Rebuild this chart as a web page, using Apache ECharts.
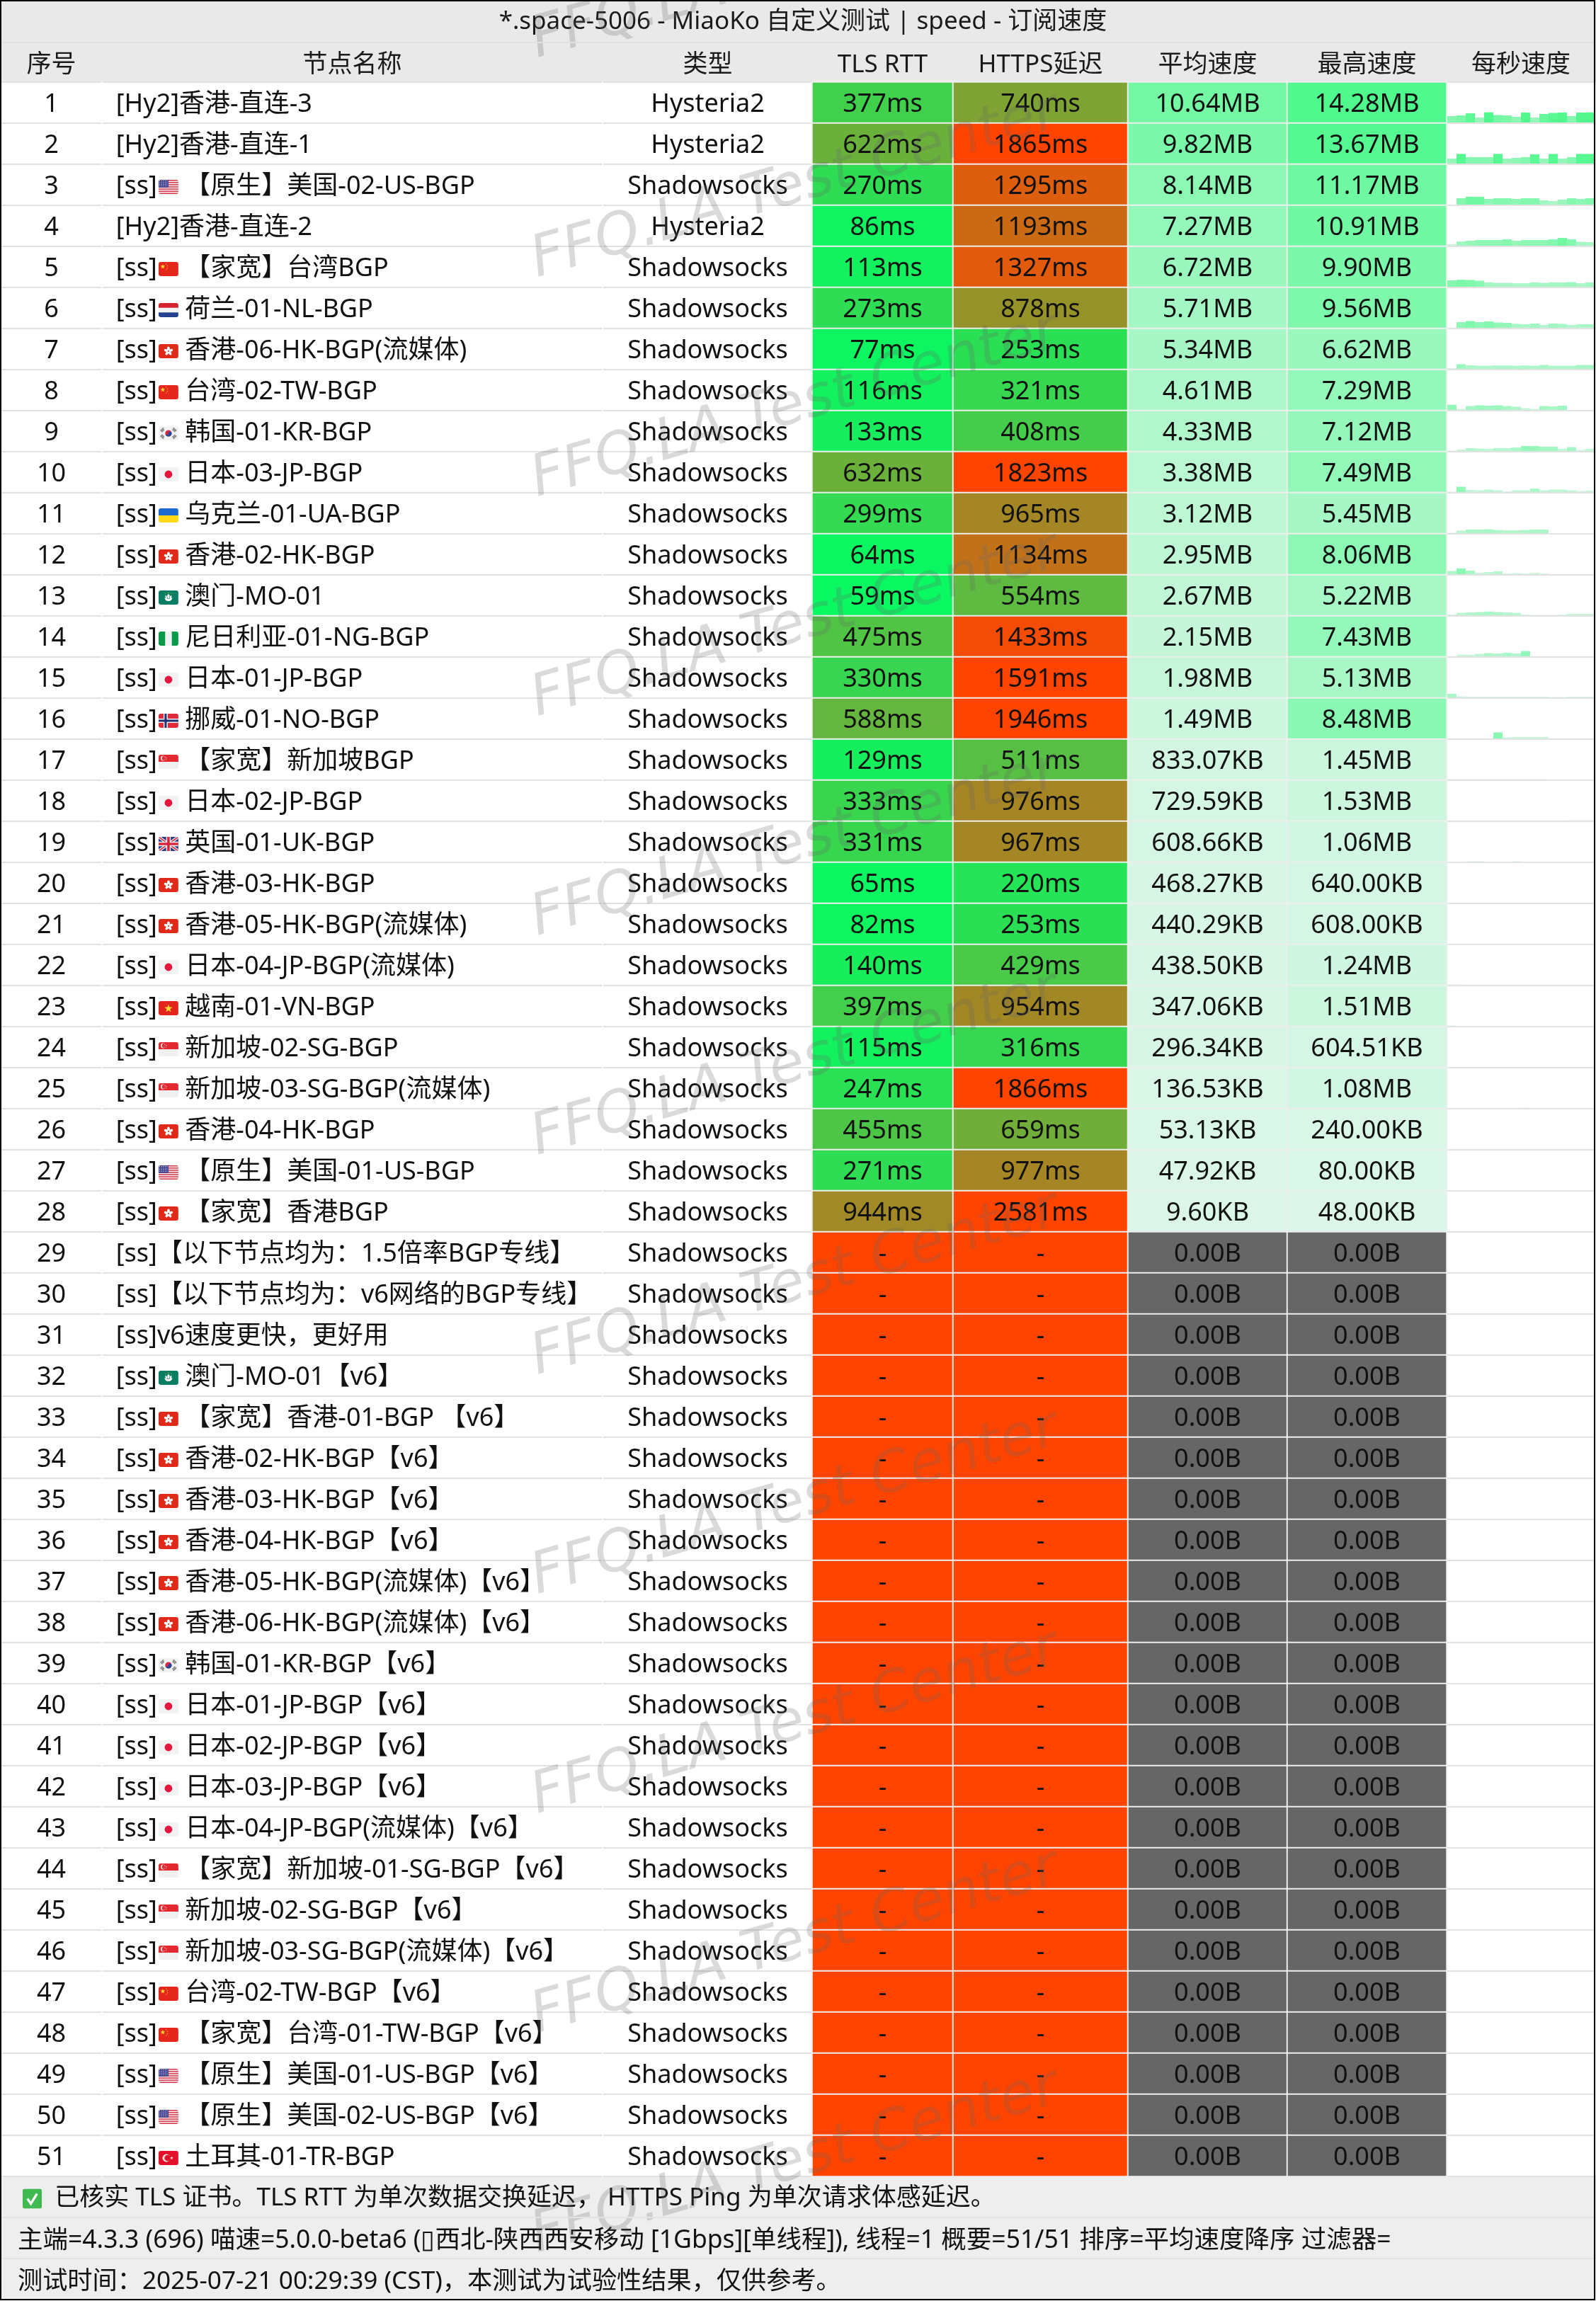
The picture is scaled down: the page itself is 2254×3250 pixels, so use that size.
<!DOCTYPE html>
<html>
<head>
<meta charset="utf-8">
<title>MiaoKo speed</title>
<script src="https://cdn.jsdelivr.net/npm/echarts@6/dist/echarts.min.js"></script>
<style>
  html, body { margin: 0; padding: 0; background: #000; }
  #chart { width: 2254px; height: 3250px; }
</style>
</head>
<body>
<div id="chart"></div>
<script>
const titleText = '*.space-5006 - MiaoKo 自定义测试 | speed - 订阅速度';
const headers = ['序号', '节点名称', '类型', 'TLS RTT', 'HTTPS延迟', '平均速度', '最高速度', '每秒速度'];

const names = [
  '[Hy2]香港-直连-3', '[Hy2]香港-直连-1', '[ss]{US|} 【原生】美国-02-US-BGP', '[Hy2]香港-直连-2',
  '[ss]{CN|} 【家宽】台湾BGP', '[ss]{NL|} 荷兰-01-NL-BGP', '[ss]{HK|} 香港-06-HK-BGP(流媒体)', '[ss]{CN|} 台湾-02-TW-BGP',
  '[ss]{KR|} 韩国-01-KR-BGP', '[ss]{JP|} 日本-03-JP-BGP', '[ss]{UA|} 乌克兰-01-UA-BGP', '[ss]{HK|} 香港-02-HK-BGP',
  '[ss]{MO|} 澳门-MO-01', '[ss]{NG|} 尼日利亚-01-NG-BGP', '[ss]{JP|} 日本-01-JP-BGP', '[ss]{NO|} 挪威-01-NO-BGP',
  '[ss]{SG|} 【家宽】新加坡BGP', '[ss]{JP|} 日本-02-JP-BGP', '[ss]{UK|} 英国-01-UK-BGP', '[ss]{HK|} 香港-03-HK-BGP',
  '[ss]{HK|} 香港-05-HK-BGP(流媒体)', '[ss]{JP|} 日本-04-JP-BGP(流媒体)', '[ss]{VN|} 越南-01-VN-BGP', '[ss]{SG|} 新加坡-02-SG-BGP',
  '[ss]{SG|} 新加坡-03-SG-BGP(流媒体)', '[ss]{HK|} 香港-04-HK-BGP', '[ss]{US|} 【原生】美国-01-US-BGP', '[ss]{HK|} 【家宽】香港BGP',
  '[ss]【以下节点均为：1.5倍率BGP专线】', '[ss]【以下节点均为：v6网络的BGP专线】', '[ss]v6速度更快，更好用', '[ss]{MO|} 澳门-MO-01【v6】',
  '[ss]{HK|} 【家宽】香港-01-BGP 【v6】', '[ss]{HK|} 香港-02-HK-BGP【v6】', '[ss]{HK|} 香港-03-HK-BGP【v6】', '[ss]{HK|} 香港-04-HK-BGP【v6】',
  '[ss]{HK|} 香港-05-HK-BGP(流媒体)【v6】', '[ss]{HK|} 香港-06-HK-BGP(流媒体)【v6】', '[ss]{KR|} 韩国-01-KR-BGP【v6】', '[ss]{JP|} 日本-01-JP-BGP【v6】',
  '[ss]{JP|} 日本-02-JP-BGP【v6】', '[ss]{JP|} 日本-03-JP-BGP【v6】', '[ss]{JP|} 日本-04-JP-BGP(流媒体)【v6】', '[ss]{SG|} 【家宽】新加坡-01-SG-BGP【v6】',
  '[ss]{SG|} 新加坡-02-SG-BGP【v6】', '[ss]{SG|} 新加坡-03-SG-BGP(流媒体)【v6】', '[ss]{CN|} 台湾-02-TW-BGP【v6】', '[ss]{CN|} 【家宽】台湾-01-TW-BGP【v6】',
  '[ss]{US|} 【原生】美国-01-US-BGP【v6】', '[ss]{US|} 【原生】美国-02-US-BGP【v6】', '[ss]{TR|} 土耳其-01-TR-BGP'
];
const types = [
  'Hysteria2', 'Hysteria2', 'Shadowsocks', 'Hysteria2', 'Shadowsocks', 'Shadowsocks', 'Shadowsocks', 'Shadowsocks', 'Shadowsocks', 'Shadowsocks',
  'Shadowsocks', 'Shadowsocks', 'Shadowsocks', 'Shadowsocks', 'Shadowsocks', 'Shadowsocks', 'Shadowsocks', 'Shadowsocks', 'Shadowsocks', 'Shadowsocks',
  'Shadowsocks', 'Shadowsocks', 'Shadowsocks', 'Shadowsocks', 'Shadowsocks', 'Shadowsocks', 'Shadowsocks', 'Shadowsocks', 'Shadowsocks', 'Shadowsocks',
  'Shadowsocks', 'Shadowsocks', 'Shadowsocks', 'Shadowsocks', 'Shadowsocks', 'Shadowsocks', 'Shadowsocks', 'Shadowsocks', 'Shadowsocks', 'Shadowsocks',
  'Shadowsocks', 'Shadowsocks', 'Shadowsocks', 'Shadowsocks', 'Shadowsocks', 'Shadowsocks', 'Shadowsocks', 'Shadowsocks', 'Shadowsocks', 'Shadowsocks',
  'Shadowsocks'
];
const tlsRtt = [
  377, 622, 270, 86, 113, 273, 77, 116, 133, 632, 299, 64, 59, 475, 330, 588, 129, 333, 331, 65, 82, 140, 397, 115, 247, 455, 271, 944,
  0, 0, 0, 0, 0, 0, 0, 0, 0, 0, 0, 0, 0, 0, 0, 0, 0, 0, 0, 0, 0, 0, 0
];
const httpsDelay = [
  740, 1865, 1295, 1193, 1327, 878, 253, 321, 408, 1823, 965, 1134, 554, 1433, 1591, 1946, 511, 976, 967, 220, 253, 429, 954, 316, 1866, 659, 977, 2581,
  0, 0, 0, 0, 0, 0, 0, 0, 0, 0, 0, 0, 0, 0, 0, 0, 0, 0, 0, 0, 0, 0, 0
];
const avgSpeed = [
  '10.64MB', '9.82MB', '8.14MB', '7.27MB', '6.72MB', '5.71MB', '5.34MB', '4.61MB', '4.33MB', '3.38MB', '3.12MB', '2.95MB', '2.67MB', '2.15MB', '1.98MB', '1.49MB',
  '833.07KB', '729.59KB', '608.66KB', '468.27KB', '440.29KB', '438.50KB', '347.06KB', '296.34KB', '136.53KB', '53.13KB', '47.92KB', '9.60KB',
  '0.00B', '0.00B', '0.00B', '0.00B', '0.00B', '0.00B', '0.00B', '0.00B', '0.00B', '0.00B', '0.00B', '0.00B',
  '0.00B', '0.00B', '0.00B', '0.00B', '0.00B', '0.00B', '0.00B', '0.00B', '0.00B', '0.00B', '0.00B'
];
const maxSpeed = [
  '14.28MB', '13.67MB', '11.17MB', '10.91MB', '9.90MB', '9.56MB', '6.62MB', '7.29MB', '7.12MB', '7.49MB', '5.45MB', '8.06MB', '5.22MB', '7.43MB', '5.13MB', '8.48MB',
  '1.45MB', '1.53MB', '1.06MB', '640.00KB', '608.00KB', '1.24MB', '1.51MB', '604.51KB', '1.08MB', '240.00KB', '80.00KB', '48.00KB',
  '0.00B', '0.00B', '0.00B', '0.00B', '0.00B', '0.00B', '0.00B', '0.00B', '0.00B', '0.00B', '0.00B', '0.00B',
  '0.00B', '0.00B', '0.00B', '0.00B', '0.00B', '0.00B', '0.00B', '0.00B', '0.00B', '0.00B', '0.00B'
];
// MB per second, 16 samples per node
const perSecond = [
  [9, 10, 13, 7, 14.28, 10.5, 10, 8, 14, 7, 12, 13.5, 14, 9, 14, 14.2],
  [7, 13.6, 9, 9, 9, 13.67, 7, 8, 9, 13, 7, 13.6, 7, 9, 13.6, 13.6],
  [0, 9, 11.17, 11, 8, 9, 9, 8, 9, 9, 6, 5, 7, 9, 8, 9],
  [2, 6, 7, 8, 8, 8, 9, 7, 8, 8, 8, 9, 10.91, 9, 5.5, 5],
  [9, 9.9, 9.5, 8.5, 6, 5.5, 5.5, 5, 5, 6, 5.5, 6, 6, 6.5, 5, 6],
  [0, 8, 9.56, 8, 9, 7.5, 7, 5.5, 5, 6, 4, 6, 5.5, 4, 5, 5],
  [1, 6.62, 5, 4.5, 4.5, 4.8, 4.8, 4.5, 4.8, 4.5, 5.5, 4.5, 4.5, 4.5, 5.5, 5.5],
  [7.29, 1.5, 5.5, 6.5, 6, 6.5, 5.5, 4.5, 2.5, 1.5, 5.5, 5, 6, 0, 0, 0],
  [0.5, 2, 4, 3.5, 3, 4.2, 4, 5, 7.12, 7, 6, 6, 3, 5.5, 1.5, 3],
  [0.5, 7.49, 3, 2.5, 3.5, 2.5, 1, 2.5, 2.5, 5, 2.5, 3.5, 3.5, 2.5, 1.5, 2],
  [0.5, 3.5, 5, 5, 5.45, 4.5, 4, 4, 4.5, 5, 5, 0, 0, 0, 0, 0],
  [4.5, 8.06, 5, 2, 3, 4, 1, 1.5, 1, 2, 1, 0, 0, 0, 0, 0],
  [1, 3.5, 4, 4.5, 5.22, 4.5, 4, 3.5, 1, 0.5, 0.5, 0.5, 1, 2, 2, 2],
  [0, 2.5, 2, 3.5, 4.5, 4, 5, 4, 7.43, 0, 0, 0, 0, 0, 0, 0],
  [5.13, 1.5, 1, 1, 1, 1, 1, 1, 1, 1, 1, 0.5, 0.5, 1, 1, 1],
  [0, 0, 0, 0, 0, 8.48, 1.5, 2, 2, 2, 2, 0, 0, 0, 0, 0],
  [0.5, 0.5, 0.5, 0.5, 0.5, 0.5, 0.5, 0.5, 0.5, 0.5, 0.5, 0, 0, 0, 0, 0],
  [0, 0, 0, 0, 0, 0, 0, 0, 0, 0, 0, 0, 0, 0.5, 0.5, 0.5],
  [0, 0, 0.5, 0.5, 0, 0, 0, 0.5, 0, 0, 0, 0, 0, 0, 0, 0],
  [0, 0, 0, 0, 0, 0, 0, 0, 0, 0, 0, 0, 0, 0, 0, 0],
  [0, 0, 0, 0, 0, 0, 0, 0, 0, 0, 0, 0, 0, 0, 0, 0],
  [0.5, 0.5, 0, 0, 0, 0, 0, 0, 0, 0, 0, 0, 0, 0, 0, 0],
  [0.5, 0, 0, 0, 0, 0, 0, 0, 0, 0, 0, 0, 0, 0, 0, 0],
  [0, 0, 0, 0, 0, 0, 0, 0, 0, 0, 0, 0, 0, 0, 0, 0],
  [0, 0, 0, 0, 0, 0, 0, 0, 0.5, 0, 0, 0, 0, 0, 0, 0]
];
const footerLines = [
  '{CHECK|}  已核实 TLS 证书。TLS RTT 为单次数据交换延迟， HTTPS Ping 为单次请求体感延迟。',
  '主端=4.3.3 (696) 喵速=5.0.0-beta6 (\u25AF西北-陕西西安移动 [1Gbps][单线程]), 线程=1 概要=51/51 排序=平均速度降序 过滤器=',
  '测试时间：2025-07-21 00:29:39 (CST)，本测试为试验性结果，仅供参考。'
];

const FONT = '"Noto Sans","Noto Sans CJK SC",sans-serif';
const ROW_TOP = 116, ROW_H = 58, ROWS = names.length;
const PER_SEC_LEFT = 2044, PER_SEC_W = 208;

function svgUri(body) {
  const svg = '<svg xmlns="http://www.w3.org/2000/svg" width="56" height="40" viewBox="0 0 28 20">'
    + '<defs><clipPath id="c"><rect width="28" height="20" rx="3"/></clipPath></defs><g clip-path="url(#c)">' + body + '</g></svg>';
  return 'data:image/svg+xml;charset=utf-8,' + encodeURIComponent(svg);
}
const star = (cx, cy, r, fill) => {
  let p = [];
  for (let i = 0; i < 10; i++) {
    const a = -Math.PI / 2 + i * Math.PI / 5, rr = i % 2 ? r * 0.4 : r;
    p.push((cx + rr * Math.cos(a)).toFixed(2) + ',' + (cy + rr * Math.sin(a)).toFixed(2));
  }
  return `<polygon points="${p.join(' ')}" fill="${fill}"/>`;
};
let usStripes = '';
for (let i = 0; i < 7; i++) usStripes += `<rect y="${i * 20 / 6.5}" width="28" height="${20 / 13}" fill="#d8364a"/>`;
let usDots = '';
for (let r = 0; r < 4; r++) for (let c = 0; c < 5; c++) usDots += `<circle cx="${1.5 + c * 2.6}" cy="${1.4 + r * 2.4}" r="0.6" fill="#fff"/>`;
let hkPetals = '';
for (let i = 0; i < 5; i++) hkPetals += `<ellipse cx="14" cy="6.8" rx="1.9" ry="3.2" fill="#fff" transform="rotate(${i * 72} 14 10)"/>`;
const flags = {
  US: '<rect width="28" height="20" fill="#f4f4f4"/>' + usStripes + '<rect width="14" height="10.8" fill="#3c3b8e"/>' + usDots,
  CN: '<rect width="28" height="20" fill="#e5261c"/>' + star(6, 6.5, 3.6, '#ffdc2e') + star(11, 3, 1, '#ffdc2e') + star(12.6, 5.6, 1, '#ffdc2e') + star(12.6, 8.6, 1, '#ffdc2e') + star(11, 11, 1, '#ffdc2e'),
  NL: '<rect width="28" height="20" fill="#f4f4f4"/><rect width="28" height="6.7" fill="#d2232e"/><rect y="13.3" width="28" height="6.7" fill="#23428f"/>',
  HK: '<rect width="28" height="20" fill="#df2a1a"/>' + hkPetals + '<circle cx="14" cy="10" r="1" fill="#df2a1a"/>',
  KR: '<rect width="28" height="20" fill="#f2f2f2"/><circle cx="14" cy="10" r="4.6" fill="#d32a44"/><path d="M9.4 10a4.6 4.6 0 0 0 9.2 0a2.3 2.3 0 0 0-4.6 0a2.3 2.3 0 0 1-4.6 0z" fill="#1d4a9a"/>'
    + '<g stroke="#555" stroke-width="2" stroke-dasharray="1 0.6"><path d="M3 6.5L7 2.5M4.5 8L8 4.5M21 2.5L25 6.5M20 4.5L23.5 8M3 13.5L7 17.5M4.5 12L8 15.5M21 17.5L25 13.5M20 15.5L23.5 12"/></g>',
  JP: '<rect width="28" height="20" fill="#f2f2f2"/><circle cx="14" cy="10" r="5.4" fill="#e5173f"/>',
  UA: '<rect width="28" height="10" fill="#1c6bd0"/><rect y="10" width="28" height="10" fill="#ffd817"/>',
  MO: '<rect width="28" height="20" fill="#0a7e62"/><path d="M8.5 10c2 .6 3.4 1.8 5.5 1.8s3.5-1.2 5.5-1.8c-.3 3.2-2.4 5-5.5 5s-5.2-1.8-5.5-5z" fill="#fff"/><ellipse cx="14" cy="8.3" rx="1.6" ry="3" fill="#fff"/>'
    + '<ellipse cx="10.8" cy="9" rx="1.1" ry="2.2" fill="#fff" transform="rotate(-25 10.8 9)"/><ellipse cx="17.2" cy="9" rx="1.1" ry="2.2" fill="#fff" transform="rotate(25 17.2 9)"/>' + star(14, 3.4, 1, '#ffd817') + star(10, 4.4, 0.8, '#ffd817') + star(18, 4.4, 0.8, '#ffd817'),
  NG: '<rect width="28" height="20" fill="#f2f2f2"/><rect width="9.3" height="20" fill="#0b9a4a"/><rect x="18.7" width="9.3" height="20" fill="#0b9a4a"/>',
  NO: '<rect width="28" height="20" fill="#e02b3b"/><rect x="7" width="6" height="20" fill="#f4f4f4"/><rect y="7" width="28" height="6" fill="#f4f4f4"/><rect x="8.5" width="3" height="20" fill="#1f2f73"/><rect y="8.5" width="28" height="3" fill="#1f2f73"/>',
  SG: '<rect width="28" height="20" fill="#f0f0f0"/><rect width="28" height="10" fill="#e4282f"/><circle cx="6.5" cy="5" r="3.4" fill="#f4f4f4"/><circle cx="8" cy="5" r="3.2" fill="#e4282f"/><circle cx="9" cy="3.2" r=".6" fill="#f4f4f4"/><circle cx="11" cy="4.6" r=".6" fill="#f4f4f4"/><circle cx="10.6" cy="7" r=".6" fill="#f4f4f4"/><circle cx="8" cy="7" r=".6" fill="#f4f4f4"/>',
  UK: '<rect width="28" height="20" fill="#2a3a86"/><path d="M0 0L28 20M28 0L0 20" stroke="#f4f4f4" stroke-width="4"/><path d="M0 0L28 20M28 0L0 20" stroke="#d6283a" stroke-width="1.6"/><path d="M14 0V20M0 10H28" stroke="#f4f4f4" stroke-width="6.4"/><path d="M14 0V20M0 10H28" stroke="#d6283a" stroke-width="3.6"/>',
  VN: '<rect width="28" height="20" fill="#e3261d"/>' + star(14, 10.5, 6, '#ffdc2e'),
  TR: '<rect width="28" height="20" fill="#e5112a"/><circle cx="11" cy="10" r="5.4" fill="#f4f4f4"/><circle cx="12.6" cy="10" r="4.3" fill="#e5112a"/>' + star(18.5, 10, 2.4, '#f4f4f4')
};
const flagRich = { gap: { width: 2, height: 1 } };
Object.keys(flags).forEach(k => {
  flagRich[k] = { width: 28, height: 20, backgroundColor: { image: svgUri(flags[k]) } };
});
flagRich.CHECK = {
  width: 27, height: 28,
  backgroundColor: { image: 'data:image/svg+xml;charset=utf-8,' + encodeURIComponent('<svg xmlns="http://www.w3.org/2000/svg" width="56" height="56" viewBox="0 0 28 28"><rect width="28" height="28" rx="3" fill="#3fb950"/><path d="M7 14l5 7l9-14" fill="none" stroke="#fff" stroke-width="3.4"/></svg>') }
};

const delayColor = ms => echarts.color.lerp(Math.min(ms / 1500, 1), ['#00FF66', '#FF4400']);
function toMB(s) {
  const m = s.match(/^([\d.]+)(MB|KB|B)$/);
  return m[2] === 'MB' ? +m[1] : m[2] === 'KB' ? +m[1] / 1024 : +m[1] / 1048576;
}
const speedColor = mb => echarts.color.lerp(Math.min(mb / 14.3, 1), ['#DBF6E8', '#50F98D']);

const cellFill = '#EEEEEE';
const plainStyle = { color: 'transparent', borderWidth: 0 };
const heatStyle = color => ({ color: color, borderColor: cellFill, borderWidth: 2 });
const nameText = i => names[i].replace(/\]\{(\w+)\|\}/, ']{gap|}{$1|}');

const columns = [
  { left: 2, width: 141, text: i => String(i + 1), style: () => plainStyle, align: 'inside' },
  { left: 145, width: 705, text: nameText, style: () => plainStyle, align: 'insideLeft' },
  { left: 852, width: 295, text: i => types[i], style: () => plainStyle, align: 'inside' },
  { left: 1147, width: 199, text: i => tlsRtt[i] ? tlsRtt[i] + 'ms' : '-', style: i => heatStyle(tlsRtt[i] ? delayColor(tlsRtt[i]) : '#FF4400'), align: 'inside' },
  { left: 1346, width: 247, text: i => httpsDelay[i] ? httpsDelay[i] + 'ms' : '-', style: i => heatStyle(httpsDelay[i] ? delayColor(httpsDelay[i]) : '#FF4400'), align: 'inside' },
  { left: 1593, width: 225, text: i => avgSpeed[i], style: i => heatStyle(toMB(avgSpeed[i]) ? speedColor(toMB(avgSpeed[i])) : '#666666'), align: 'inside' },
  { left: 1818, width: 225, text: i => maxSpeed[i], style: i => heatStyle(toMB(maxSpeed[i]) ? speedColor(toMB(maxSpeed[i])) : '#666666'), align: 'inside' },
  { left: PER_SEC_LEFT, width: PER_SEC_W, text: () => '', style: () => plainStyle, align: 'inside' }
];

const grids = [], xAxes = [], yAxes = [], series = [];
const rowLabels = names.map((_, i) => String(i + 1));

columns.forEach((col, c) => {
  grids.push({ left: col.left, width: col.width, top: ROW_TOP, height: ROW_H * ROWS });
  xAxes.push({
    type: 'category', gridIndex: c, position: 'top', data: [headers[c]],
    axisLine: { show: false }, axisTick: { show: false },
    axisLabel: { interval: 0, margin: 6, fontSize: 35, color: '#1a1a1a', fontFamily: FONT }
  });
  yAxes.push({
    type: 'category', gridIndex: c, inverse: true, data: rowLabels,
    axisLine: { show: false }, axisTick: { show: false }, axisLabel: { show: false },
    splitLine: { show: true, interval: 0, lineStyle: { color: '#E2E2E2', width: 2 } }
  });
  series.push({
    type: 'heatmap', xAxisIndex: c, yAxisIndex: c, animation: false, silent: true,
    label: {
      show: true, position: col.align, distance: 19, offset: [0, 3],
      fontSize: 36, fontFamily: FONT, color: '#111',
      rich: flagRich,
      formatter: p => col.text(p.dataIndex)
    },
    data: names.map((_, i) => ({ value: [0, i, 1], itemStyle: col.style(i) }))
  });
});

// the sparklines: one small bar grid per node, on one shared MB scale
perSecond.forEach((vals, r) => {
  const idx = grids.length;
  grids.push({ left: PER_SEC_LEFT, width: PER_SEC_W, top: ROW_TOP + ROW_H * r - 1, height: ROW_H });
  xAxes.push({ type: 'category', gridIndex: idx, show: false, data: vals.map((_, i) => i) });
  yAxes.push({ type: 'value', gridIndex: idx, show: false, min: 0, max: ROW_H });
  series.push({
    type: 'bar', xAxisIndex: idx, yAxisIndex: idx, animation: false, silent: true, z: 4,
    barWidth: '100%',
    data: vals.map(v => ({ value: v, itemStyle: { color: speedColor(v) } }))
  });
});

const footerTops = [3083, 3142, 3200];
const footerSizes = [35, 35.5, 35.2];
const titles = [{
  text: titleText, left: 1129, textAlign: 'center', top: 9,
  textStyle: { fontSize: 35, fontWeight: 'normal', fontFamily: FONT, color: '#1a1a1a' }
}].concat(footerLines.map((t, i) => ({
  text: t, left: i === 0 ? 27 : 20, top: footerTops[i],
  textStyle: { fontSize: footerSizes[i], fontWeight: 'normal', fontFamily: FONT, color: '#111', rich: flagRich }
})));

const graphics = [
  { type: 'rect', z: -5, shape: { x: 0, y: ROW_TOP, width: 2254, height: ROW_H * ROWS }, style: { fill: '#fff' } },
  { type: 'rect', z: -5, shape: { x: 0, y: 3074, width: 2254, height: 176 }, style: { fill: '#EEEEEE' } },
  { type: 'line', z: 50, shape: { x1: 0, y1: 60, x2: 2254, y2: 60 }, style: { stroke: '#E0E0E0', lineWidth: 2 } },
  { type: 'line', z: 50, shape: { x1: 0, y1: 3132, x2: 2254, y2: 3132 }, style: { stroke: '#E3E3E3', lineWidth: 2 } },
  { type: 'line', z: 50, shape: { x1: 0, y1: 3190, x2: 2254, y2: 3190 }, style: { stroke: '#E3E3E3', lineWidth: 2 } },
  { type: 'rect', z: 60, shape: { x: 1, y: 1, width: 2251, height: 3247 }, style: { fill: 'none', stroke: '#000', lineWidth: 2 } }
];
for (let k = 0; k < 11; k++) {
  graphics.push({
    type: 'text', z: 40, silent: true,
    x: 764, y: 100 + 310 * k, rotation: 0.28,
    style: {
      text: 'FFQ.LA Test Center', fill: 'rgba(100,100,100,0.24)',
      font: 'italic 81px "DejaVu Sans"', verticalAlign: 'bottom', align: 'left'
    }
  });
}

const chart = echarts.init(document.getElementById('chart'));
chart.setOption({
  animation: false,
  backgroundColor: '#E9E9E9',
  textStyle: { fontFamily: FONT },
  title: titles,
  grid: grids,
  xAxis: xAxes,
  yAxis: yAxes,
  graphic: graphics,
  series: series
});
</script>
</body>
</html>
